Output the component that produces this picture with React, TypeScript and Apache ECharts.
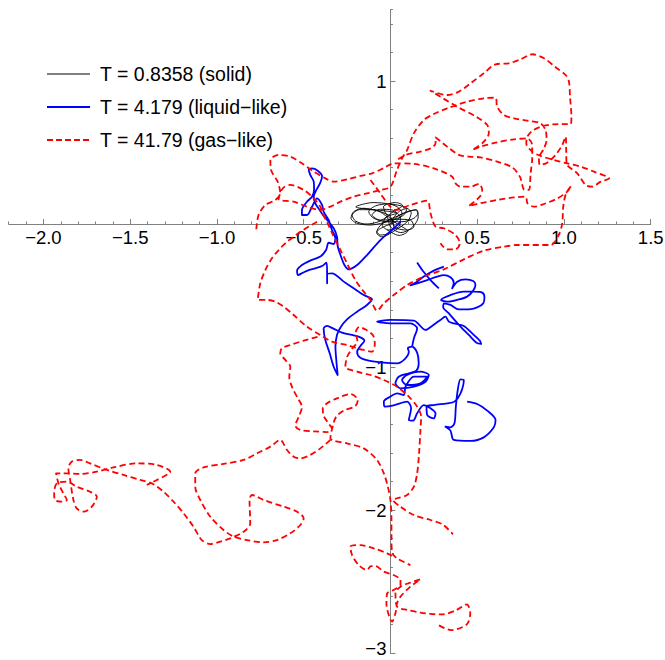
import React, { useEffect, useRef } from 'react';
import * as echarts from 'echarts';

// ---- tick values ----
const xMajorTicks = [-2, -1.5, -1, -0.5, 0.5, 1, 1.5];
const yMajorTicks = [-3, -2, -1, 1];

// ---- legend labels ----
const legendLabels = ['T = 0.8358 (solid)', 'T = 4.179 (liquid−like)', 'T = 41.79 (gas−like)'];

// ---- T = 0.8358 (solid) trajectory ----
const solidPath = [
  [0, 0], [0.038, 0.051], [0.096, 0.086], [0.144, 0.098], [0.158, 0.075], [0.135, 0.04], [0.067, 0.016],
  [-0.019, 0.016], [-0.096, 0.04], [-0.125, 0.086], [-0.087, 0.126], [-0.019, 0.14], [0.038, 0.121],
  [0.067, 0.075], [0.029, 0.016], [-0.038, -0.019], [-0.077, -0.054], [-0.058, -0.077], [-0.01, -0.065],
  [0.019, -0.019], [0, 0.051], [-0.058, 0.086], [-0.154, 0.11], [-0.212, 0.086], [-0.227, 0.04],
  [-0.192, 0.005], [-0.115, -0.007], [-0.038, 0.009], [0.038, 0.033], [0.115, 0.028], [0.135, -0.019],
  [0.096, -0.042], [0.038, -0.03], [0.01, 0.016], [0.048, 0.086], [0.096, 0.11], [0.077, 0.063],
  [0.019, 0.033], [-0.058, 0.028], [-0.106, 0.063], [-0.058, 0.103], [0.01, 0.098], [0.058, 0.04],
  [0.048, -0.019], [-0.01, -0.042], [-0.048, -0.007], [-0.019, 0.051], [0.038, 0.075],
  [-0.2, 0.12], [-0.1, 0.15], [0.0, 0.14], [0.08, 0.12], [0.12, 0.08], [0.1, 0.02], [0.02, -0.05],
  [-0.05, -0.09], [-0.08, -0.06], [-0.05, 0.0], [0.05, 0.06], [0.15, 0.1], [0.16, 0.05], [0.12, -0.03],
  [0.06, -0.06], [0.0, -0.02], [-0.02, 0.05], [-0.1, 0.1], [-0.18, 0.1], [-0.22, 0.06], [-0.2, 0.02],
  [-0.14, 0.0], [-0.06, 0.02], [0.02, 0.09], [0.07, 0.13], [0.03, 0.15], [-0.04, 0.12], [-0.02, 0.06],
  [0.04, 0.0], [0.1, -0.05], [0.05, -0.08], [-0.02, -0.04]
];

// ---- T = 4.179 (liquid-like) trajectory pieces ----
const liquidSeg1 = [
  [0.058, 0.016], [0.02, -0.03], [-0.058, -0.112], [-0.135, -0.217], [-0.192, -0.287], [-0.24, -0.317],
  [-0.265, -0.287], [-0.288, -0.217], [-0.304, -0.154], [-0.308, -0.089], [-0.327, -0.03], [-0.356, 0.016],
  [-0.385, 0.056], [-0.408, 0.098], [-0.433, 0.145], [-0.442, 0.191], [-0.427, 0.238], [-0.404, 0.289],
  [-0.394, 0.336], [-0.419, 0.373], [-0.452, 0.389], [-0.471, 0.382], [-0.462, 0.343], [-0.442, 0.296],
  [-0.44, 0.24], [-0.452, 0.191], [-0.481, 0.156], [-0.51, 0.098], [-0.51, 0.063], [-0.481, 0.063],
  [-0.452, 0.121], [-0.423, 0.179], [-0.394, 0.133], [-0.385, 0.086], [-0.356, 0.028], [-0.337, -0.042],
  [-0.317, -0.1], [-0.327, -0.14], [-0.356, -0.131], [-0.371, -0.182], [-0.404, -0.228], [-0.462, -0.256],
  [-0.51, -0.287], [-0.538, -0.326], [-0.533, -0.357], [-0.504, -0.34], [-0.471, -0.322], [-0.433, -0.31],
  [-0.394, -0.294], [-0.369, -0.27], [-0.365, -0.333], [-0.365, -0.415], [-0.365, -0.35], [-0.337, -0.345],
  [-0.269, -0.403], [-0.212, -0.45], [-0.154, -0.497], [-0.106, -0.527], [-0.135, -0.566], [-0.192, -0.613],
  [-0.25, -0.667], [-0.288, -0.723], [-0.308, -0.776], [-0.317, -0.858], [-0.312, -0.951], [-0.304, -1.056],
  [-0.327, -0.998], [-0.35, -0.904], [-0.375, -0.811], [-0.385, -0.73], [-0.365, -0.713], [-0.331, -0.73],
  [-0.279, -0.76], [-0.221, -0.776], [-0.173, -0.793], [-0.15, -0.816], [-0.173, -0.853], [-0.192, -0.893],
  [-0.177, -0.932], [-0.125, -0.956], [-0.038, -0.97], [0.038, -0.974], [0.081, -0.946], [0.106, -0.893],
  [0.1, -0.869], [0.125, -0.858], [0.154, -0.9], [0.163, -0.974], [0.15, -1.026], [0.106, -1.044],
  [0.048, -1.068], [0.029, -1.114], [0.058, -1.149], [0.135, -1.138], [0.202, -1.103], [0.221, -1.056],
  [0.173, -1.033], [0.096, -1.056], [0.067, -1.091], [0.096, -1.126], [0.173, -1.114], [0.212, -1.068],
  [0.135, -1.068], [0.087, -1.138], [0.077, -1.196], [0.038, -1.184], [0, -1.207], [-0.038, -1.242],
  [-0.035, -1.277], [0.019, -1.268], [0.096, -1.242], [0.119, -1.289], [0.106, -1.371], [0.131, -1.375],
  [0.154, -1.324], [0.192, -1.266], [0.231, -1.289], [0.26, -1.324], [0.25, -1.359], [0.212, -1.336],
  [0.208, -1.277], [0.25, -1.266], [0.327, -1.254], [0.369, -1.242], [0.404, -1.184], [0.423, -1.091],
  [0.404, -1.086], [0.388, -1.161], [0.377, -1.277], [0.369, -1.394], [0.346, -1.422], [0.317, -1.417],
  [0.346, -1.445], [0.365, -1.51], [0.462, -1.517], [0.538, -1.492], [0.596, -1.422], [0.606, -1.371],
  [0.558, -1.305], [0.5, -1.259], [0.442, -1.242]
];
const liquidSeg2 = [
  [0.125, -0.858], [0.135, -0.8], [0.154, -0.73], [0.115, -0.695], [0.0, -0.695], [-0.077, -0.683],
  [0.0, -0.671], [0.135, -0.676], [0.202, -0.741], [0.24, -0.713], [0.288, -0.671], [0.317, -0.648],
  [0.337, -0.683], [0.365, -0.695], [0.423, -0.713], [0.471, -0.765], [0.515, -0.816], [0.523, -0.839],
  [0.496, -0.83], [0.452, -0.776], [0.408, -0.723], [0.369, -0.671], [0.337, -0.625], [0.304, -0.583],
  [0.308, -0.555], [0.346, -0.566], [0.394, -0.597], [0.452, -0.597], [0.5, -0.583], [0.535, -0.555],
  [0.542, -0.513], [0.529, -0.48], [0.481, -0.473], [0.423, -0.473], [0.346, -0.497], [0.292, -0.531],
  [0.337, -0.543], [0.385, -0.531], [0.442, -0.508], [0.477, -0.466], [0.49, -0.427], [0.477, -0.399],
  [0.433, -0.387], [0.385, -0.403], [0.356, -0.45], [0.365, -0.41], [0.346, -0.373], [0.308, -0.357],
  [0.269, -0.368], [0.212, -0.392], [0.154, -0.415], [0.115, -0.429], [0.154, -0.403], [0.192, -0.368],
  [0.25, -0.326], [0.308, -0.298]
];
const liquidSeg3 = [[0.154, -0.27], [0.183, -0.322], [0.231, -0.392], [0.279, -0.45]];

// ---- T = 41.79 (gas-like) trajectory pieces ----
const gasSeg1 = [
  [-0.773, -0.037], [-0.76, 0.063], [-0.721, 0.133], [-0.663, 0.168], [-0.635, 0.214], [-0.65, 0.296],
  [-0.688, 0.378], [-0.692, 0.448], [-0.644, 0.483], [-0.577, 0.471], [-0.51, 0.424], [-0.442, 0.366],
  [-0.375, 0.319], [-0.327, 0.296], [-0.25, 0.312], [-0.173, 0.336], [-0.106, 0.354], [-0.04, 0.39],
  [0.019, 0.424], [0.135, 0.42], [0.25, 0.389], [0.356, 0.331], [0.375, 0.284], [0.404, 0.261],
  [0.462, 0.261], [0.51, 0.28], [0.529, 0.238], [0.515, 0.191], [0.452, 0.126], [0.519, 0.145],
  [0.615, 0.168], [0.712, 0.186], [0.779, 0.191], [0.79, 0.145], [0.827, 0.121], [0.885, 0.14],
  [0.962, 0.179], [1.019, 0.226], [1.042, 0.266], [1.012, 0.214], [0.996, 0.121], [0.99, 0.005],
  [0.97, -0.077], [0.923, -0.147], [0.731, -0.147], [0.654, -0.159], [0.538, -0.186], [0.423, -0.247],
  [0.308, -0.317], [0.192, -0.368], [0.096, -0.427], [0.019, -0.497], [-0.038, -0.555], [-0.077, -0.606],
  [-0.115, -0.531], [-0.154, -0.473], [-0.202, -0.392], [-0.25, -0.275], [-0.288, -0.182], [-0.33, -0.08],
  [-0.36, 0.0], [-0.385, 0.06], [-0.404, 0.121], [-0.442, 0.179], [-0.5, 0.238], [-0.577, 0.273],
  [-0.62, 0.25], [-0.644, 0.175], [-0.558, 0.156], [-0.481, 0.121], [-0.404, 0.098], [-0.346, 0.121],
  [-0.288, 0.156], [-0.212, 0.191], [-0.135, 0.214], [-0.058, 0.238], [0.0, 0.26], [0.038, 0.378],
  [0.067, 0.459], [0.096, 0.517], [0.135, 0.634], [0.192, 0.727], [0.25, 0.769], [0.327, 0.809],
  [0.442, 0.855], [0.538, 0.879], [0.606, 0.883], [0.615, 0.821], [0.654, 0.762], [0.712, 0.739],
  [0.788, 0.723], [0.865, 0.704], [0.894, 0.657], [0.9, 0.587], [0.885, 0.529], [0.856, 0.459],
  [0.862, 0.413], [0.904, 0.429], [0.952, 0.483], [0.99, 0.552], [1.01, 0.611], [1.013, 0.517],
  [1.015, 0.424], [1.077, 0.354], [1.125, 0.273], [1.163, 0.261], [1.212, 0.296], [1.26, 0.319],
  [1.173, 0.366], [1.096, 0.401], [1.019, 0.424], [0.942, 0.448], [0.865, 0.476], [0.817, 0.506],
  [0.783, 0.564], [0.789, 0.611], [0.818, 0.652], [0.866, 0.68], [0.942, 0.697], [1.039, 0.699],
  [1.043, 0.75], [1.035, 0.89], [1.029, 0.995], [1.01, 1.042], [0.952, 1.096], [0.885, 1.159],
  [0.818, 1.187], [0.75, 1.152], [0.683, 1.124], [0.606, 1.117], [0.538, 1.054], [0.462, 0.984],
  [0.394, 0.925], [0.327, 0.902], [0.231, 0.932], [0.385, 0.82], [0.5, 0.746], [0.558, 0.692],
  [0.567, 0.634], [0.529, 0.564], [0.471, 0.517], [0.519, 0.541], [0.615, 0.571], [0.712, 0.592],
  [0.788, 0.599], [0.817, 0.552], [0.817, 0.459], [0.808, 0.354], [0.798, 0.238], [0.773, 0.238],
  [0.746, 0.331], [0.702, 0.396], [0.615, 0.436], [0.519, 0.466], [0.452, 0.471], [0.394, 0.483],
  [0.327, 0.541], [0.26, 0.606], [0.26, 0.564], [0.231, 0.529], [0.173, 0.506], [0.087, 0.483], [0.03, 0.44]
];
const gasSeg2 = [
  [-0.115, 0.308], [-0.058, 0.214], [-0.01, 0.133], [0.029, 0.098], [0.115, 0.133], [0.212, 0.163],
  [0.231, 0.075], [0.26, -0.019], [0.308, -0.03], [0.375, -0.077], [0.4, -0.135], [0.375, -0.177],
  [0.327, -0.177], [0.288, -0.135]
];
const gasSeg3 = [
  [-0.423, 0.016], [-0.5, -0.04], [-0.596, -0.124], [-0.644, -0.182], [-0.683, -0.24], [-0.721, -0.322],
  [-0.75, -0.415], [-0.765, -0.531], [-0.712, -0.531], [-0.663, -0.543], [-0.615, -0.578], [-0.558, -0.636],
  [-0.481, -0.718], [-0.404, -0.776], [-0.337, -0.823], [-0.25, -0.846], [-0.192, -0.869], [-0.154, -0.881],
  [-0.106, -0.893], [-0.09, -0.84], [-0.1, -0.78], [-0.14, -0.74], [-0.18, -0.72], [-0.2, -0.76],
  [-0.19, -0.82], [-0.22, -0.87], [-0.25, -0.93], [-0.26, -1.0], [-0.192, -1.033], [-0.115, -1.056],
  [-0.038, -1.091], [0.038, -1.138], [0.106, -1.207], [0.154, -1.277], [0.177, -1.347], [0.173, -1.441],
  [0.165, -1.604], [0.154, -1.744], [0.135, -1.837], [0.096, -1.895], [0.038, -1.918], [0.015, -1.93],
  [0.058, -1.977], [0.135, -2.035], [0.231, -2.07], [0.3, -2.1], [0.36, -2.17]
];
const gasSeg4 = [
  [-0.42, -0.79], [-0.5, -0.816], [-0.577, -0.846], [-0.625, -0.869], [-0.635, -0.904], [-0.606, -0.95],
  [-0.577, -0.998], [-0.583, -1.07], [-0.567, -1.14], [-0.538, -1.21], [-0.51, -1.28], [-0.529, -1.35],
  [-0.548, -1.41], [-0.52, -1.44], [-0.44, -1.45], [-0.365, -1.455], [-0.337, -1.43], [-0.36, -1.39],
  [-0.385, -1.34], [-0.39, -1.29], [-0.365, -1.254], [-0.308, -1.219], [-0.231, -1.189], [-0.188, -1.231],
  [-0.202, -1.273], [-0.269, -1.305], [-0.312, -1.347], [-0.331, -1.406], [-0.346, -1.499], [-0.25, -1.534],
  [-0.154, -1.569], [-0.077, -1.651], [-0.038, -1.744], [-0.015, -1.837], [0.0, -1.93], [0.006, -2.07],
  [0.006, -2.21], [0.012, -2.303], [0.038, -2.338], [0.115, -2.385]
];
const gasSeg5 = [
  [-0.346, -1.51], [-0.404, -1.569], [-0.462, -1.615], [-0.519, -1.639], [-0.558, -1.627], [-0.596, -1.58],
  [-0.635, -1.51], [-0.692, -1.557], [-0.769, -1.604], [-0.846, -1.65], [-0.962, -1.678], [-1.077, -1.702],
  [-1.125, -1.744], [-1.125, -1.837], [-1.096, -1.93], [-1.038, -2.047], [-0.962, -2.14], [-0.904, -2.186],
  [-0.827, -2.21], [-0.731, -2.226], [-0.654, -2.21], [-0.577, -2.163], [-0.519, -2.105], [-0.5, -2.058],
  [-0.538, -2.012], [-0.615, -1.977], [-0.731, -1.93], [-0.798, -1.895], [-0.812, -1.93], [-0.808, -2.093],
  [-0.846, -2.152], [-0.923, -2.198], [-0.981, -2.221], [-1.038, -2.238], [-1.087, -2.21], [-1.135, -2.117],
  [-1.192, -2.023], [-1.25, -1.942], [-1.308, -1.872], [-1.375, -1.814], [-1.442, -1.79], [-1.538, -1.755],
  [-1.635, -1.72], [-1.731, -1.674], [-1.788, -1.65], [-1.837, -1.662], [-1.856, -1.709], [-1.846, -1.79],
  [-1.827, -1.93], [-1.808, -1.989], [-1.769, -2.012], [-1.721, -1.977], [-1.692, -1.907], [-1.731, -1.872],
  [-1.808, -1.837], [-1.865, -1.802], [-1.923, -1.814], [-1.938, -1.884], [-1.933, -1.93], [-1.894, -1.942],
  [-1.865, -1.93], [-1.885, -1.884], [-1.913, -1.814], [-1.927, -1.744], [-1.865, -1.744], [-1.788, -1.748],
  [-1.692, -1.732], [-1.596, -1.702], [-1.462, -1.674], [-1.346, -1.685], [-1.269, -1.732], [-1.346, -1.79],
  [-1.404, -1.825]
];
const gasSeg6 = [
  [0.01, -2.32], [-0.019, -2.303], [-0.096, -2.268], [-0.173, -2.245], [-0.231, -2.256], [-0.221, -2.315],
  [-0.183, -2.385], [-0.135, -2.42], [-0.112, -2.392], [-0.087, -2.392], [-0.038, -2.431], [0.019, -2.455],
  [0.058, -2.49], [0.058, -2.524], [0.019, -2.559], [-0.019, -2.583], [-0.023, -2.653], [0.01, -2.781],
  [0.029, -2.722], [0.038, -2.653], [0.058, -2.606], [0.115, -2.536], [0.173, -2.485], [0.115, -2.508],
  [0.058, -2.536], [0.029, -2.583], [0.038, -2.676], [0.096, -2.699], [0.173, -2.718], [0.231, -2.727],
  [0.3, -2.73], [0.38, -2.7], [0.44, -2.66], [0.46, -2.72], [0.44, -2.8], [0.35, -2.84], [0.27, -2.8]
];

const solidSegments = [solidPath];
const liquidSegments = [liquidSeg1, liquidSeg2, liquidSeg3];
const gasSegments = [gasSeg1, gasSeg2, gasSeg3, gasSeg4, gasSeg5, gasSeg6];

const FONT = "'Liberation Sans', Arial, Helvetica, sans-serif";
const AXIS_GRAY = '#808080';
const BLACK = '#000000';
const BLUE = '#0000ff';
const RED = '#ff0000';
const GAS_DASH = [6, 3.5];

const near = (a: number, b: number) => Math.abs(a - b) < 1e-6;
const minus = (s: string) => s.replace('-', '\u2212');

const W = 665;
const H = 660;
const X_MIN = -2.2;
const X_MAX = 1.5;
const Y_MIN = -3;
const Y_MAX = 1.5;
const G_LEFT = 8.7;
const G_RIGHT = 14.3;
const G_TOP = 9.5;
const G_BOTTOM = 7;

export default function App() {
  const ref = useRef<HTMLDivElement>(null);
  useEffect(() => {
    if (!ref.current) return;
    const chart = echarts.init(ref.current, undefined, { renderer: 'svg' });

    const gw = W - G_LEFT - G_RIGHT;
    const gh = H - G_TOP - G_BOTTOM;
    // axis offsets that put the axes through the origin
    const yAxisOffset = -((0 - X_MIN) / (X_MAX - X_MIN)) * gw;
    const xAxisOffset = -((0 - Y_MIN) / (Y_MAX - Y_MIN)) * gh;

    const mk = (segs: number[][][], color: string, width: number, dash: any, z: number) =>
      segs.map((seg) => ({
        type: 'line',
        data: seg,
        xAxisIndex: 0,
        yAxisIndex: 0,
        showSymbol: false,
        symbol: 'none',
        silent: true,
        clip: true,
        smooth: 0.3,
        z,
        lineStyle: { color, width, type: dash, cap: 'butt', join: 'round' },
      }));

    const series = [
      ...mk(solidSegments, BLACK, 0.9, 'solid', 2),
      ...mk(liquidSegments, BLUE, 1.8, 'solid', 3),
      ...mk(gasSegments, RED, 1.8, GAS_DASH, 4),
    ];

    const legendRows = [
      { y: 74, color: BLACK, width: 1, dash: null as any, label: legendLabels[0] },
      { y: 107, color: BLUE, width: 1.8, dash: null as any, label: legendLabels[1] },
      { y: 140, color: RED, width: 1.8, dash: [6, 3], label: legendLabels[2] },
    ];
    const graphic: any[] = [];
    legendRows.forEach((r) => {
      graphic.push({
        type: 'line',
        shape: { x1: 47, y1: r.y, x2: 90, y2: r.y },
        style: { stroke: r.color, lineWidth: r.width, lineDash: r.dash || undefined },
        silent: true,
      });
      graphic.push({
        type: 'text',
        x: 100,
        y: r.y,
        style: { text: r.label, fill: '#000', fontSize: 19.5, fontFamily: FONT, verticalAlign: 'middle', align: 'left' },
        silent: true,
      });
    });

    const xLabelFmt = (v: number) => {
      if (near(v, 0)) return '';
      if (!near(v * 2, Math.round(v * 2))) return '';
      return minus((Math.round(v * 2) / 2).toFixed(1));
    };
    const yLabelFmt = (v: number) => {
      if (near(v, 0)) return '';
      if (!near(v, Math.round(v))) return '';
      return minus(String(Math.round(v)));
    };

    const option: any = {
      animation: false,
      backgroundColor: '#ffffff',
      grid: { left: G_LEFT, right: G_RIGHT, top: G_TOP, bottom: G_BOTTOM, containLabel: false, outerBoundsMode: 'none' },
      xAxis: [
        {
          type: 'value', min: X_MIN, max: X_MAX, interval: 0.1, position: 'bottom', offset: xAxisOffset,
          axisLine: { show: true, onZero: false, lineStyle: { color: AXIS_GRAY, width: 1 } },
          axisTick: { show: true, inside: true, length: 2.5, lineStyle: { color: AXIS_GRAY, width: 1 } },
          axisLabel: { show: true, margin: 4, color: '#000', fontSize: 18.5, fontFamily: FONT, formatter: xLabelFmt },
          splitLine: { show: false },
        },
        {
          type: 'value', min: X_MIN, max: X_MAX, position: 'bottom', offset: xAxisOffset,
          axisLine: { show: false, onZero: false },
          axisTick: { show: true, inside: true, length: 5, customValues: xMajorTicks, lineStyle: { color: AXIS_GRAY, width: 1 } },
          axisLabel: { show: false },
          splitLine: { show: false },
        },
      ],
      yAxis: [
        {
          type: 'value', min: Y_MIN, max: Y_MAX, interval: 0.2, position: 'left', offset: yAxisOffset,
          axisLine: { show: true, onZero: false, lineStyle: { color: AXIS_GRAY, width: 1 } },
          axisTick: { show: true, inside: true, length: 2.5, lineStyle: { color: AXIS_GRAY, width: 1 } },
          axisLabel: {
            show: true, margin: 4, color: '#000', fontSize: 18.5, lineHeight: 10, fontFamily: FONT,
            verticalAlignMinLabel: 'bottom',
            formatter: yLabelFmt,
          },
          splitLine: { show: false },
        },
        {
          type: 'value', min: Y_MIN, max: Y_MAX, position: 'left', offset: yAxisOffset,
          axisLine: { show: false, onZero: false },
          axisTick: { show: true, inside: true, length: 5, customValues: yMajorTicks, lineStyle: { color: AXIS_GRAY, width: 1 } },
          axisLabel: { show: false },
          splitLine: { show: false },
        },
      ],
      series,
      graphic,
    };
    chart.setOption(option);
    return () => chart.dispose();
  }, []);

  return (
    <div
      ref={ref}
      style={{ position: 'absolute', left: 0, top: 0, width: W, height: H, background: '#fff' }}
    />
  );
}
